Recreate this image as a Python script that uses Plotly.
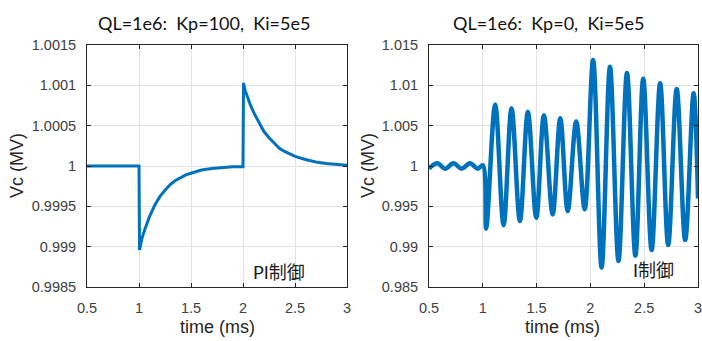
import plotly.graph_objects as go

# ---- PI control (QL=1e6, Kp=100, Ki=5e5): cavity voltage, load steps at 1 ms and 2 ms
t_pi = [0.5, 1.0, 1.005, 1.02, 1.03, 1.05, 1.075, 1.1, 1.15, 1.2, 1.25, 1.3, 1.35,
        1.4, 1.45, 1.5, 1.6, 1.7, 1.8, 1.9, 2.0,
        2.005, 2.02, 2.03, 2.05, 2.07, 2.1, 2.15, 2.2, 2.25, 2.3, 2.35, 2.4, 2.45,
        2.5, 2.6, 2.7, 2.8, 2.9, 3.0]
vc_pi = [1.0, 1.0, 0.99896, 0.99906, 0.99911, 0.99919, 0.99929, 0.99937, 0.99951,
         0.99962, 0.9997, 0.99977, 0.99982, 0.99986, 0.99989, 0.99991, 0.99995,
         0.99997, 0.99998, 0.99999, 0.99999,
         1.00103, 1.00094, 1.0009, 1.00083, 1.00076, 1.00067, 1.00054, 1.00043,
         1.00035, 1.00028, 1.00022, 1.00018, 1.00015, 1.00012, 1.00008, 1.00005,
         1.00003, 1.00002, 1.00001]

# ---- I control only (QL=1e6, Kp=0, Ki=5e5): peaks and troughs of the ringing voltage
t_i = [0.5, 0.578, 0.649, 0.727, 0.804, 0.882, 0.953, 1.0,
       1.031, 1.115, 1.193, 1.267, 1.345, 1.419, 1.497, 1.568, 1.649, 1.72,
       1.789, 1.868, 1.947, 2.025, 2.104, 2.182, 2.261, 2.340, 2.418, 2.491,
       2.569, 2.648, 2.723, 2.802, 2.881, 2.959, 3.0]
vc_i = [0.99968, 1.00033, 0.99967, 1.00033, 0.99967, 1.00033, 0.99967, 1.00008,
        0.99225, 1.00761, 0.99267, 1.00716, 0.99317, 1.00671, 0.99358, 1.0063,
        0.994, 1.00593, 0.9944, 1.00551, 0.99465, 1.01313, 0.98741, 1.0123,
        0.98823, 1.01152, 0.98889, 1.01082, 0.98959, 1.01025, 0.99021, 1.00955,
        0.99082, 1.00901, 0.99597]

x_ticks = [0.5, 1, 1.5, 2, 2.5, 3]
x_ticktext = ["0.5", "1", "1.5", "2", "2.5", "3"]
y_ticks_pi = [0.9985, 0.999, 0.9995, 1.0, 1.0005, 1.001, 1.0015]
y_ticktext_pi = ["0.9985", "0.999", "0.9995", "1", "1.0005", "1.001", "1.0015"]
y_ticks_i = [0.985, 0.99, 0.995, 1.0, 1.005, 1.01, 1.015]
y_ticktext_i = ["0.985", "0.99", "0.995", "1", "1.005", "1.01", "1.015"]

titles = ["QL=1e6:  Kp=100,  Ki=5e5", "QL=1e6:  Kp=0,  Ki=5e5"]
mode_labels = ["PI制御", "I制御"]
x_label = "time (ms)"
y_label = "Vc (MV)"

BLUE = "#0072BD"
AX = "#262626"
TICK_FONT = dict(family="Liberation Sans, Arial", size=14.5, color="#404040")
LABEL_FONT = dict(family="Liberation Sans, Arial", size=18, color="#262626")
NOTE_FONT = dict(family="Lato, Noto Sans CJK JP", size=18, color="#1a1a1a")

W, H = 702, 341

fig = go.Figure()
fig.add_trace(go.Scatter(x=t_pi, y=vc_pi, mode="lines",
                         line=dict(color=BLUE, width=3), xaxis="x", yaxis="y"))
fig.add_trace(go.Scatter(x=t_i, y=vc_i, mode="lines",
                         line=dict(color=BLUE, width=4.5, shape="spline", smoothing=1),
                         xaxis="x2", yaxis="y2"))


def axis(domain, rng, vals, text, anchor):
    return dict(domain=domain, range=rng, tickvals=vals, ticktext=text,
                anchor=anchor, automargin=False, ticklabeloverflow="allow",
                showline=True, linecolor=AX, linewidth=1, mirror="ticks",
                ticks="inside", ticklen=4, tickcolor=AX,
                showgrid=True, gridcolor="#e2e2e2", gridwidth=1, zeroline=False,
                tickfont=TICK_FONT, fixedrange=True)


ydom = [1 - 287 / H, 1 - 45 / H]
fig.update_layout(
    width=W, height=H, margin=dict(l=0, r=0, t=0, b=0, autoexpand=False),
    paper_bgcolor="white", plot_bgcolor="white", showlegend=False,
    xaxis=axis([87 / W, 347 / W], [0.5, 3], x_ticks, x_ticktext, "y"),
    yaxis=axis(ydom, [0.9985, 1.0015], y_ticks_pi, y_ticktext_pi, "x"),
    xaxis2=axis([429 / W, 698 / W], [0.5, 3], x_ticks, x_ticktext, "y2"),
    yaxis2=axis(ydom, [0.985, 1.015], y_ticks_i, y_ticktext_i, "x2"),
)
fig.update_xaxes(ticklabelstandoff=8)
fig.update_yaxes(ticklabelstandoff=7)

ann = []
# panel titles
for xc, txt in [(204, titles[0]), (548, titles[1])]:
    ann.append(dict(x=xc / W, y=1 - 23 / H, xref="paper", yref="paper", text=txt,
                    showarrow=False, xanchor="center", yanchor="middle",
                    font=dict(family="Lato", size=18, color="#111111")))
# axis labels
for xc in (217, 562):
    ann.append(dict(x=xc / W, y=1 - 327 / H, xref="paper", yref="paper", text=x_label,
                    showarrow=False, xanchor="center", yanchor="middle", font=LABEL_FONT))
for xc in (17, 368):
    ann.append(dict(x=xc / W, y=1 - 166 / H, xref="paper", yref="paper", text=y_label,
                    showarrow=False, xanchor="center", yanchor="middle", textangle=-90,
                    font=LABEL_FONT))
# control-mode notes
for xc, yc, txt in [(279, 272, mode_labels[0]), (653, 270, mode_labels[1])]:
    ann.append(dict(x=xc / W, y=1 - yc / H, xref="paper", yref="paper", text=txt,
                    showarrow=False, xanchor="center", yanchor="middle", font=NOTE_FONT))
fig.update_layout(annotations=ann)

fig.write_html("out.html")
